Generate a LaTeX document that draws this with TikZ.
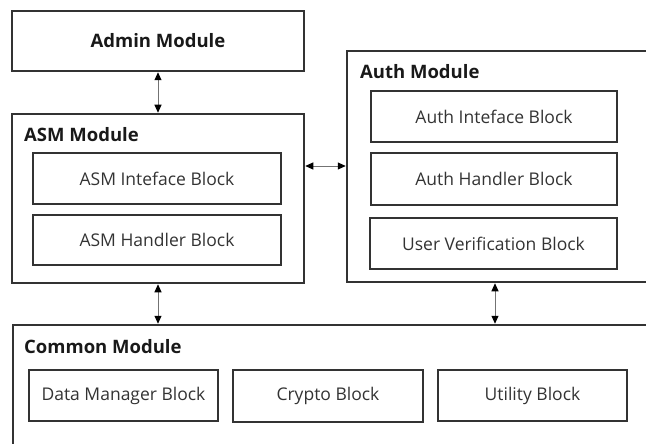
\documentclass[tikz,border=0pt]{standalone}
\usepackage{fontspec}
\setmainfont{Open Sans}
\usetikzlibrary{arrows.meta}
\tikzset{
  modbox/.style={draw=black!80, line width=1.5pt, rectangle, inner sep=0pt},
  blockbox/.style={draw=black!80, line width=1.5pt, rectangle, inner sep=0pt, font=\fontsize{17.5}{20}\selectfont, text=black!80},
  modlabel/.style={anchor=west, inner sep=0pt, font=\fontsize{18.5}{21}\selectfont\bfseries, text=black!90},
  conn/.style={draw=black!55, line width=1pt, {Triangle[length=8pt,width=7pt,black]}-{Triangle[length=8pt,width=7pt,black]}, shorten <=0.5pt, shorten >=0.5pt}
}
\begin{document}
\begin{tikzpicture}[x=1pt,y=-1pt]
\useasboundingbox (0,0) rectangle (646,444);
\clip (0,0) rectangle (646,444);
% modules
\node[modbox, minimum width=292pt, minimum height=60pt, font=\fontsize{18.5}{21}\selectfont\bfseries, text=black!90] (admin) at (158,41) {Admin Module};
\node[modbox, minimum width=292pt, minimum height=169pt] (asm) at (158,198.5) {};
\node[modbox, minimum width=313pt, minimum height=231pt] (auth) at (503.5,166.5) {};
\node[modbox, minimum width=647pt, minimum height=135pt] (common) at (336.5,392.5) {};
% labels
\node[modlabel] (asml) at (24,135) {ASM Module};
\node[modlabel] (authl) at (360,72) {Auth Module};
\node[modlabel] (commonl) at (24,347) {Common Module};
% blocks
\node[blockbox, minimum width=248pt, minimum height=51pt] (asmint) at (157,178.5) {ASM Inteface Block};
\node[blockbox, minimum width=248pt, minimum height=50pt] (asmhan) at (157,240) {ASM Handler Block};
\node[blockbox, minimum width=246pt, minimum height=51pt] (authint) at (494,116.5) {Auth Inteface Block};
\node[blockbox, minimum width=246pt, minimum height=52pt] (authhan) at (494,179) {Auth Handler Block};
\node[blockbox, minimum width=247pt, minimum height=51pt] (userver) at (493.5,243.5) {User Verification Block};
\node[blockbox, minimum width=189pt, minimum height=51pt] (dm) at (123.5,395.5) {Data Manager Block};
\node[blockbox, minimum width=190pt, minimum height=52pt] (crypto) at (328,396) {Crypto Block};
\node[blockbox, minimum width=189pt, minimum height=51pt] (util) at (532.5,395.5) {Utility Block};
% connectors
\coordinate (h) at (0,166);
\coordinate (v) at (495,0);
\draw[conn] (admin.south) -- (asm.north);
\draw[conn] (asm.east |- h) -- (auth.west |- h);
\draw[conn] (asm.south) -- (common.north -| asm.south);
\draw[conn] (auth.south -| v) -- (common.north -| v);
\end{tikzpicture}
\end{document}
